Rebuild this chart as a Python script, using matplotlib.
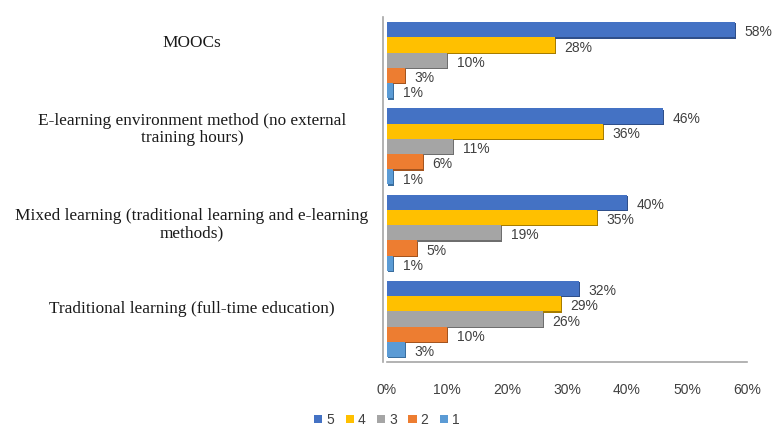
import numpy as np
import matplotlib
matplotlib.use("Agg")
from matplotlib import pyplot as plt
from matplotlib.transforms import blended_transform_factory

# categories, top to bottom
categories = [
    "MOOCs",
    "E-learning environment method (no external\ntraining hours)",
    "Mixed learning (traditional learning and e-learning\nmethods)",
    "Traditional learning (full-time education)",
]
series_names = ["5", "4", "3", "2", "1"]
score_5 = [0.58, 0.46, 0.40, 0.32]
score_4 = [0.28, 0.36, 0.35, 0.29]
score_3 = [0.10, 0.11, 0.19, 0.26]
score_2 = [0.03, 0.06, 0.05, 0.10]
score_1 = [0.01, 0.01, 0.01, 0.03]
x_ticks = [0, 0.1, 0.2, 0.3, 0.4, 0.5, 0.6]
x_tick_labels = ["0%", "10%", "20%", "30%", "40%", "50%", "60%"]

series = [score_5, score_4, score_3, score_2, score_1]
colors = ["#4472C4", "#FFC000", "#A5A5A5", "#ED7D31", "#5B9BD5"]
shadows = ["#2F4F8A", "#A67C00", "#6E6E6E", "#A3541F", "#3A6E9E"]
label_shift = [0.20, 0.20, 0.09, 0.12]  # category labels sit a bit above the group centre

fig = plt.figure(figsize=(7.74, 4.32), dpi=100)
ax = fig.add_axes([0.5, 0.162, 0.465, 0.7986])

n = len(series)
bh = 0.1767
pos = np.arange(len(categories))
for i, (vals, c, sc, name) in enumerate(zip(series, colors, shadows, series_names)):
    y = pos - (n - 1) / 2 * bh + i * bh
    # fake 3d shadow
    ax.barh(y + 0.015, vals, height=bh, left=0.0015, color=sc, zorder=2)
    ax.barh(y, vals, height=bh, color=c, zorder=3, label=name)
    for yy, v in zip(y, vals):
        ax.annotate(f"{v*100:.0f}%", (v, yy), xytext=(7, -2), textcoords="offset points",
                    ha="left", va="center", fontsize=10, color="#404040",
                    family="Liberation Sans", zorder=4)

ax.set_ylim(3.5, -0.5)
ax.set_xlim(0, 0.6)
ax.set_xticks(x_ticks)
ax.set_xticklabels(x_tick_labels, family="Liberation Sans", fontsize=10, color="#404040")
ax.tick_params(axis="x", length=0, pad=15)
ax.set_yticks([])

for s in ["top", "right"]:
    ax.spines[s].set_visible(False)
ax.spines["left"].set_color("#A6A6A6")
ax.spines["bottom"].set_color("#A6A6A6")
ax.spines["left"].set_position(("outward", 3))
ax.spines["left"].set_linewidth(1.2)
ax.spines["bottom"].set_linewidth(1.2)

tr = blended_transform_factory(fig.transFigure, ax.transData)
for p, lab, sh in zip(pos, categories, label_shift):
    fig.text(0.248, p - sh, lab, transform=tr, ha="center", va="center",
             multialignment="center", family="Liberation Serif", fontsize=12.4,
             color="#1a1a1a", linespacing=1.1)

fig.legend(loc="center", bbox_to_anchor=(0.5, 0.028), ncol=5, frameon=False,
           prop={"family": "Liberation Sans", "size": 10}, handlelength=0.6,
           handleheight=0.6, handletextpad=0.3, columnspacing=0.8, labelcolor="#404040")

fig.savefig("out.png", dpi=100)
